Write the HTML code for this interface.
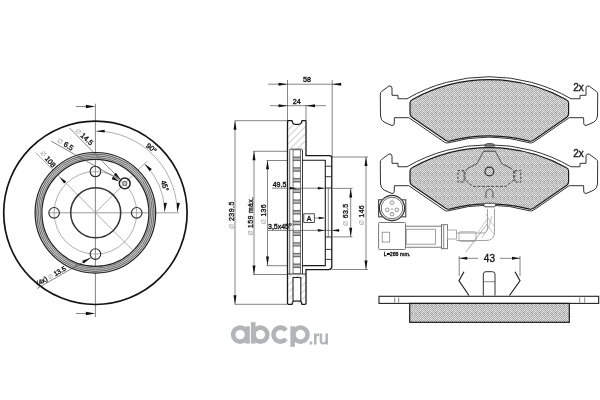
<!DOCTYPE html>
<html><head><meta charset="utf-8"><style>
html,body{margin:0;padding:0;background:#fff;}
svg{display:block;filter:blur(0.3px);}
text{font-family:"Liberation Sans",sans-serif;stroke:#111;stroke-width:0.35;}
.t{stroke:#444;stroke-width:0.65;fill:none;}
.c{stroke:#8c8c8c;stroke-width:0.7;fill:none;}
.kt{stroke:#222;stroke-width:0.9;fill:none;}
.ko{stroke:#141414;stroke-width:1.7;fill:none;}
.kb{stroke:#333;stroke-width:1.5;fill:none;}
.kh{stroke:#2a2a2a;stroke-width:1.1;fill:none;}
.kh2{stroke:#444;stroke-width:0.8;fill:none;}
</style></head><body>
<svg width="600" height="400" viewBox="0 0 600 400">
<defs>
<pattern id="dots" width="8" height="8" patternUnits="userSpaceOnUse"><rect x="0" y="0" width="1" height="1" fill="#e0e0e0"/><rect x="1" y="0" width="1" height="1" fill="#a1a1a1"/><rect x="2" y="0" width="1" height="1" fill="#e5e5e5"/><rect x="3" y="0" width="1" height="1" fill="#9b9b9b"/><rect x="4" y="0" width="1" height="1" fill="#d0d0d0"/><rect x="5" y="0" width="1" height="1" fill="#bababa"/><rect x="6" y="0" width="1" height="1" fill="#d2d2d2"/><rect x="7" y="0" width="1" height="1" fill="#afafaf"/><rect x="0" y="1" width="1" height="1" fill="#9b9b9b"/><rect x="1" y="1" width="1" height="1" fill="#ececec"/><rect x="2" y="1" width="1" height="1" fill="#a5a5a5"/><rect x="3" y="1" width="1" height="1" fill="#cecece"/><rect x="4" y="1" width="1" height="1" fill="#9d9d9d"/><rect x="5" y="1" width="1" height="1" fill="#e7e7e7"/><rect x="6" y="1" width="1" height="1" fill="#b2b2b2"/><rect x="7" y="1" width="1" height="1" fill="#d0d0d0"/><rect x="0" y="2" width="1" height="1" fill="#dbdbdb"/><rect x="1" y="2" width="1" height="1" fill="#9d9d9d"/><rect x="2" y="2" width="1" height="1" fill="#efefef"/><rect x="3" y="2" width="1" height="1" fill="#b3b3b3"/><rect x="4" y="2" width="1" height="1" fill="#cfcfcf"/><rect x="5" y="2" width="1" height="1" fill="#bcbcbc"/><rect x="6" y="2" width="1" height="1" fill="#d3d3d3"/><rect x="7" y="2" width="1" height="1" fill="#a6a6a6"/><rect x="0" y="3" width="1" height="1" fill="#9b9b9b"/><rect x="1" y="3" width="1" height="1" fill="#f0f0f0"/><rect x="2" y="3" width="1" height="1" fill="#b1b1b1"/><rect x="3" y="3" width="1" height="1" fill="#cfcfcf"/><rect x="4" y="3" width="1" height="1" fill="#a6a6a6"/><rect x="5" y="3" width="1" height="1" fill="#cecece"/><rect x="6" y="3" width="1" height="1" fill="#bbbbbb"/><rect x="7" y="3" width="1" height="1" fill="#d4d4d4"/><rect x="0" y="4" width="1" height="1" fill="#dedede"/><rect x="1" y="4" width="1" height="1" fill="#b2b2b2"/><rect x="2" y="4" width="1" height="1" fill="#d5d5d5"/><rect x="3" y="4" width="1" height="1" fill="#bababa"/><rect x="4" y="4" width="1" height="1" fill="#d3d3d3"/><rect x="5" y="4" width="1" height="1" fill="#bcbcbc"/><rect x="6" y="4" width="1" height="1" fill="#dfdfdf"/><rect x="7" y="4" width="1" height="1" fill="#bbbbbb"/><rect x="0" y="5" width="1" height="1" fill="#a3a3a3"/><rect x="1" y="5" width="1" height="1" fill="#d2d2d2"/><rect x="2" y="5" width="1" height="1" fill="#bcbcbc"/><rect x="3" y="5" width="1" height="1" fill="#d8d8d8"/><rect x="4" y="5" width="1" height="1" fill="#afafaf"/><rect x="5" y="5" width="1" height="1" fill="#d2d2d2"/><rect x="6" y="5" width="1" height="1" fill="#bbbbbb"/><rect x="7" y="5" width="1" height="1" fill="#d0d0d0"/><rect x="0" y="6" width="1" height="1" fill="#f0f0f0"/><rect x="1" y="6" width="1" height="1" fill="#9b9b9b"/><rect x="2" y="6" width="1" height="1" fill="#d9d9d9"/><rect x="3" y="6" width="1" height="1" fill="#b7b7b7"/><rect x="4" y="6" width="1" height="1" fill="#eeeeee"/><rect x="5" y="6" width="1" height="1" fill="#b3b3b3"/><rect x="6" y="6" width="1" height="1" fill="#e0e0e0"/><rect x="7" y="6" width="1" height="1" fill="#b5b5b5"/><rect x="0" y="7" width="1" height="1" fill="#b5b5b5"/><rect x="1" y="7" width="1" height="1" fill="#e3e3e3"/><rect x="2" y="7" width="1" height="1" fill="#ababab"/><rect x="3" y="7" width="1" height="1" fill="#dbdbdb"/><rect x="4" y="7" width="1" height="1" fill="#a3a3a3"/><rect x="5" y="7" width="1" height="1" fill="#dbdbdb"/><rect x="6" y="7" width="1" height="1" fill="#9d9d9d"/><rect x="7" y="7" width="1" height="1" fill="#f0f0f0"/></pattern>
<pattern id="hatch" width="5" height="5" patternUnits="userSpaceOnUse" patternTransform="rotate(45)">
<line x1="0" y1="0" x2="0" y2="5" stroke="#999" stroke-width="0.9"/>
</pattern>
</defs>
<rect width="600" height="400" fill="#fff"/>
<line x1="95.40" y1="103.7" x2="95.40" y2="317" stroke="#666" stroke-width="0.8"/>
<line x1="49" y1="212.80" x2="179" y2="212.80" stroke="#9a9a9a" stroke-width="1"/>
<line x1="35.50" y1="152.50" x2="133.00" y2="250.50" class="c"/>
<line x1="95.40" y1="212.80" x2="147.02" y2="161.18" class="c"/>
<circle cx="95.40" cy="212.80" r="41.30" class="c" />
<path d="M96.83,131.01 A81.80,81.80 0 0 1 177.09,208.52" class="c"/>
<path d="M145.25,164.66 A69.30,69.30 0 0 1 164.61,209.17" class="c"/>
<circle cx="95.40" cy="212.80" r="91.70" class="ko" />
<circle cx="95.40" cy="212.80" r="56.9" fill="none" stroke="#d0d0d0" stroke-width="6.8"/>
<circle cx="95.40" cy="212.80" r="53.50" fill="none" stroke="#222" stroke-width="1.20"/>
<circle cx="95.40" cy="212.80" r="55.30" fill="none" stroke="#555" stroke-width="0.80"/>
<circle cx="95.40" cy="212.80" r="57.00" fill="none" stroke="#555" stroke-width="0.80"/>
<circle cx="95.40" cy="212.80" r="58.70" fill="none" stroke="#444" stroke-width="0.80"/>
<circle cx="95.40" cy="212.80" r="60.30" fill="none" stroke="#222" stroke-width="1.20"/>
<circle cx="95.70" cy="212.80" r="25.00" class="kb" />
<circle cx="95.40" cy="171.50" r="5.30" class="kh" />
<circle cx="136.70" cy="212.80" r="5.30" class="kh" />
<circle cx="95.40" cy="254.10" r="5.30" class="kh" />
<circle cx="54.10" cy="212.80" r="5.30" class="kh" />
<circle cx="124.74" cy="183.46" r="5.4" fill="none" stroke="#222" stroke-width="1.5"/>
<circle cx="124.74" cy="183.46" r="2.2" fill="#c4c4c4" stroke="#555" stroke-width="0.9"/>
<line x1="76.00" y1="106.50" x2="87.00" y2="106.50" class="t"/>
<polygon points="95.40,106.50 85.90,108.20 85.90,104.80" fill="#111"/>
<line x1="76.00" y1="313.50" x2="87.00" y2="313.50" class="t"/>
<polygon points="95.40,313.50 85.90,315.20 85.90,311.80" fill="#111"/>
<polygon points="95.70,131.30 104.65,129.63 104.74,132.43" fill="#111"/>
<polygon points="177.20,212.80 176.90,202.69 179.88,203.05" fill="#111"/>
<polygon points="144.40,163.80 151.83,169.10 149.71,171.22" fill="#111"/>
<polygon points="164.40,212.80 163.90,202.70 166.89,203.00" fill="#111"/>
<line x1="69.50" y1="128.00" x2="121.00" y2="180.00" class="t"/>
<line x1="51.00" y1="141.00" x2="119.00" y2="179.50" class="t"/>
<polygon points="120.50,179.50 113.78,174.90 115.90,172.78" fill="#111"/>
<polygon points="119.50,181.50 111.67,179.26 113.02,176.58" fill="#111"/>
<polygon points="59.50,176.90 66.22,181.50 64.10,183.62" fill="#111"/>
<line x1="37.00" y1="288.50" x2="92.00" y2="257.00" class="t"/>
<polygon points="90.80,257.70 83.71,263.47 82.16,260.67" fill="#111"/>
<text x="82.70" y="138.50" font-size="7.30" text-anchor="middle" fill="#1a1a1a" transform="rotate(43.0 82.70 138.50)" ><tspan fill="#aaa" stroke="none" font-size="6.57">Ø</tspan> 14.5</text>
<text x="64.20" y="146.30" font-size="7.30" text-anchor="middle" fill="#1a1a1a" transform="rotate(32.0 64.20 146.30)" ><tspan fill="#aaa" stroke="none" font-size="6.57">Ø</tspan> 6.5</text>
<text x="46.10" y="160.70" font-size="7.30" text-anchor="middle" fill="#1a1a1a" transform="rotate(50.0 46.10 160.70)" ><tspan fill="#aaa" stroke="none" font-size="6.57">Ø</tspan> 108</text>
<text x="149.80" y="150.00" font-size="7.30" text-anchor="middle" fill="#1a1a1a" transform="rotate(40.0 149.80 150.00)" >90°</text>
<text x="162.50" y="186.50" font-size="7.30" text-anchor="middle" fill="#1a1a1a" transform="rotate(72.0 162.50 186.50)" >45°</text>
<text x="52.20" y="277.90" font-size="6.60" text-anchor="middle" fill="#1a1a1a" transform="rotate(-29.0 52.20 277.90)" >(4x) <tspan fill="#aaa" stroke="none" font-size="5.94">Ø</tspan> 13.5</text>
<line x1="268.00" y1="84.20" x2="340.00" y2="84.20" class="t"/>
<line x1="287.50" y1="80.00" x2="287.50" y2="121.00" class="t"/>
<line x1="332.20" y1="80.00" x2="332.20" y2="157.00" class="t"/>
<polygon points="287.50,84.20 278.50,85.70 278.50,82.70" fill="#111"/>
<polygon points="332.20,84.20 341.20,82.70 341.20,85.70" fill="#111"/>
<text x="307.00" y="82.30" font-size="7.20" text-anchor="middle" fill="#1a1a1a" >58</text>
<line x1="270.00" y1="105.70" x2="326.00" y2="105.70" class="t"/>
<line x1="306.00" y1="105.00" x2="306.00" y2="121.00" class="t"/>
<polygon points="287.50,105.70 278.50,107.20 278.50,104.20" fill="#111"/>
<polygon points="306.00,105.70 315.00,104.20 315.00,107.20" fill="#111"/>
<text x="296.70" y="103.60" font-size="7.20" text-anchor="middle" fill="#1a1a1a" >24</text>
<line x1="235.00" y1="120.50" x2="235.00" y2="304.50" class="t"/>
<line x1="235.00" y1="120.70" x2="287.00" y2="120.70" class="t"/>
<line x1="235.00" y1="304.30" x2="287.00" y2="304.30" class="t"/>
<polygon points="235.00,120.70 236.50,129.70 233.50,129.70" fill="#111"/>
<polygon points="235.00,304.30 233.50,295.30 236.50,295.30" fill="#111"/>
<text x="234.00" y="215.00" font-size="7.00" text-anchor="middle" fill="#1a1a1a" transform="rotate(-90.0 234.00 215.00)" letter-spacing="0.45"><tspan fill="#aaa" stroke="none" font-size="6.30">Ø</tspan> 239.5</text>
<line x1="254.00" y1="151.30" x2="254.00" y2="274.50" class="t"/>
<line x1="253.00" y1="151.30" x2="292.00" y2="151.30" class="t"/>
<line x1="253.00" y1="274.50" x2="292.00" y2="274.50" class="t"/>
<polygon points="254.00,151.30 255.50,160.30 252.50,160.30" fill="#111"/>
<polygon points="254.00,274.50 252.50,265.50 255.50,265.50" fill="#111"/>
<text x="253.20" y="216.00" font-size="7.00" text-anchor="middle" fill="#1a1a1a" transform="rotate(-90.0 253.20 216.00)" letter-spacing="0.3"><tspan fill="#aaa" stroke="none" font-size="6.30">Ø</tspan> 159 máx.</text>
<line x1="267.50" y1="160.50" x2="267.50" y2="265.70" class="t"/>
<line x1="266.50" y1="160.50" x2="292.00" y2="160.50" class="t"/>
<line x1="266.50" y1="265.70" x2="292.00" y2="265.70" class="t"/>
<polygon points="267.50,160.30 269.00,169.30 266.00,169.30" fill="#111"/>
<polygon points="267.50,265.50 266.00,256.50 269.00,256.50" fill="#111"/>
<text x="265.60" y="214.00" font-size="7.00" text-anchor="middle" fill="#1a1a1a" transform="rotate(-90.0 265.60 214.00)" letter-spacing="0.3"><tspan fill="#aaa" stroke="none" font-size="6.30">Ø</tspan> 136</text>
<line x1="350.70" y1="188.40" x2="350.70" y2="236.90" class="t"/>
<line x1="333.00" y1="188.40" x2="352.50" y2="188.40" class="t"/>
<line x1="333.00" y1="236.90" x2="352.50" y2="236.90" class="t"/>
<polygon points="350.70,188.60 352.20,197.60 349.20,197.60" fill="#111"/>
<polygon points="350.70,236.70 349.20,227.70 352.20,227.70" fill="#111"/>
<text x="347.60" y="214.60" font-size="7.00" text-anchor="middle" fill="#1a1a1a" transform="rotate(-90.0 347.60 214.60)" letter-spacing="0.3"><tspan fill="#aaa" stroke="none" font-size="6.30">Ø</tspan> 63.5</text>
<line x1="366.00" y1="157.00" x2="366.00" y2="269.50" class="t"/>
<line x1="332.00" y1="157.00" x2="368.00" y2="157.00" class="t"/>
<line x1="332.00" y1="269.50" x2="368.00" y2="269.50" class="t"/>
<polygon points="366.00,157.00 367.50,166.00 364.50,166.00" fill="#111"/>
<polygon points="366.00,269.50 364.50,260.50 367.50,260.50" fill="#111"/>
<text x="364.00" y="215.00" font-size="7.00" text-anchor="middle" fill="#1a1a1a" transform="rotate(-90.0 364.00 215.00)" letter-spacing="0.3"><tspan fill="#aaa" stroke="none" font-size="6.30">Ø</tspan> 146</text>
<path d="M287.5,150 L287.5,121.5 Q287.5,120.7 288.5,120.7 L292,120.7 L292.8,123 Q293.4,124.4 295.2,124.4 L298.8,124.4 Q300.6,124.4 301.2,123 L302,120.7 L305,120.7 Q306,120.7 306,121.5 L306,155.6 L329.5,155.6 Q331.8,155.6 331.8,158 L331.8,266.5 Q331.8,269.6 328.7,269.6 L306,269.6 L306,303.5 Q306,304.3 305,304.3 L302,304.3 L301.2,302 Q300.6,300.6 298.8,300.6 L295.2,300.6 Q293.4,300.6 292.8,302 L292,304.3 L288.5,304.3 Q287.5,304.3 287.5,303.5 Z" fill="#fff" stroke="#1a1a1a" stroke-width="1.3"/>
<path d="M288.2,149 L288.2,121.4 L291.5,121.4 L292.2,123.3 Q293,125.1 295.2,125.1 L298.8,125.1 Q301,125.1 301.8,123.3 L302.5,121.4 L305.3,121.4 L305.3,149 Z" fill="url(#hatch)"/>
<line x1="289.7" y1="149" x2="289.7" y2="274" stroke="#444" stroke-width="0.8"/>
<line x1="302.50" y1="150.00" x2="302.50" y2="274.00" class="kt"/>
<path d="M302.5,160.3 L325.3,160.3 L325.3,265.6 L302.5,265.6" fill="none" stroke="#1a1a1a" stroke-width="1.1"/>
<line x1="290.30" y1="149.20" x2="302.50" y2="149.20" class="kt"/>
<line x1="287.50" y1="274.00" x2="306.00" y2="274.00" class="kt"/>
<rect x="292.6" y="149" width="8.4" height="125" fill="#6a6a6a"/>
<rect x="293.5" y="150.30" width="6.6" height="6.30" rx="0.8" fill="#fff"/>
<rect x="293.5" y="157.80" width="6.6" height="2" fill="#bdbdbd"/>
<rect x="293.5" y="161.00" width="6.6" height="6.30" rx="0.8" fill="#fff"/>
<rect x="293.5" y="168.50" width="6.6" height="2" fill="#bdbdbd"/>
<rect x="293.5" y="171.70" width="6.6" height="6.30" rx="0.8" fill="#fff"/>
<rect x="293.5" y="179.20" width="6.6" height="2" fill="#bdbdbd"/>
<rect x="293.5" y="182.40" width="6.6" height="6.30" rx="0.8" fill="#fff"/>
<rect x="293.5" y="189.90" width="6.6" height="2" fill="#bdbdbd"/>
<rect x="293.5" y="193.10" width="6.6" height="6.30" rx="0.8" fill="#fff"/>
<rect x="293.5" y="200.60" width="6.6" height="2" fill="#bdbdbd"/>
<rect x="293.5" y="203.80" width="6.6" height="6.30" rx="0.8" fill="#fff"/>
<rect x="293.5" y="211.30" width="6.6" height="2" fill="#bdbdbd"/>
<rect x="293.5" y="214.50" width="6.6" height="6.30" rx="0.8" fill="#fff"/>
<rect x="293.5" y="222.00" width="6.6" height="2" fill="#bdbdbd"/>
<rect x="293.5" y="225.20" width="6.6" height="6.30" rx="0.8" fill="#fff"/>
<rect x="293.5" y="232.70" width="6.6" height="2" fill="#bdbdbd"/>
<rect x="293.5" y="235.90" width="6.6" height="6.30" rx="0.8" fill="#fff"/>
<rect x="293.5" y="243.40" width="6.6" height="2" fill="#bdbdbd"/>
<rect x="293.5" y="246.60" width="6.6" height="6.30" rx="0.8" fill="#fff"/>
<rect x="293.5" y="254.10" width="6.6" height="2" fill="#bdbdbd"/>
<rect x="293.5" y="257.30" width="6.6" height="6.30" rx="0.8" fill="#fff"/>
<rect x="293.5" y="264.80" width="6.6" height="2" fill="#bdbdbd"/>
<rect x="293.5" y="268.00" width="6.6" height="5.00" rx="0.8" fill="#fff"/>
<rect x="288.2" y="274.6" width="17.1" height="29" fill="url(#hatch)"/>
<rect x="293" y="277.5" width="7.8" height="23.5" fill="#fff" stroke="#222" stroke-width="1.1"/>
<line x1="325.30" y1="188.00" x2="331.80" y2="188.00" class="kt"/>
<line x1="325.30" y1="237.00" x2="331.80" y2="237.00" class="kt"/>
<line x1="328.30" y1="188.00" x2="328.30" y2="237.00" class="t"/>
<line x1="325.30" y1="249.40" x2="331.80" y2="249.40" class="kt"/>
<line x1="325.30" y1="259.40" x2="331.80" y2="259.40" class="kt"/>
<line x1="325.30" y1="166.20" x2="331.80" y2="166.20" class="kt"/>
<line x1="325.30" y1="176.70" x2="331.80" y2="176.70" class="kt"/>
<rect x="303.8" y="213.8" width="10.5" height="8.7" fill="#fff" stroke="#222" stroke-width="0.8"/>
<text x="309.05" y="221.00" font-size="7.00" text-anchor="middle" fill="#1a1a1a" >A</text>
<line x1="314.30" y1="218.00" x2="324.00" y2="218.00" class="t"/>
<polygon points="324.80,218.00 318.80,219.20 318.80,216.80" fill="#111"/>
<line x1="272.00" y1="188.20" x2="326.00" y2="188.20" class="t"/>
<polygon points="297.00,188.20 290.00,189.50 290.00,186.90" fill="#111"/>
<polygon points="324.80,188.20 317.80,189.50 317.80,186.90" fill="#111"/>
<text x="279.50" y="187.20" font-size="7.00" text-anchor="middle" fill="#1a1a1a" >49.5</text>
<line x1="268.00" y1="230.40" x2="340.00" y2="230.40" class="t"/>
<polygon points="324.80,230.40 317.80,231.70 317.80,229.10" fill="#111"/>
<polygon points="332.00,230.40 339.00,229.10 339.00,231.70" fill="#111"/>
<text x="268.00" y="228.60" font-size="7.00" text-anchor="start" fill="#1a1a1a" >3,5x45°</text>
<g transform="translate(0,0.00)">
<path d="M407,98.75 L398,98.75 L398,95.3 L392,95.3 L392,88 Q391.5,85.3 389,86 L381.5,91.5 Q380.3,92.5 380.3,94 L380.5,116 Q381,120.5 384,122 L391,125.2 Q393.8,126.2 394.2,124 L394.4,117.7 L408.8,117.7 L444.5,142.2 Q446.2,143.2 448,142.9 A150,150 0 0 1 530,142.9 Q531.8,143.2 533.5,142.2 L569.2,117.7 L583.6,117.7 L583.8,124 Q584.2,126.2 587,125.2 L594,122 Q597,120.5 597.5,116 L597.7,94 Q597.7,92.5 596.5,91.5 L589,86 Q586.5,85.3 586,88 L586,95.3 L580,95.3 L580,98.75 L571,98.75 A163.8,163.8 0 0 0 407,98.75 Z" fill="#fff" stroke="#333" stroke-width="1"/>
<path d="M410,103 Q410,100.6 412.5,99.5 A158.7,158.7 0 0 1 566,99.5 Q568.6,100.6 568.6,103 L568.6,113.5 Q568.6,115.8 566.8,117.2 L533.5,140.2 Q531.5,141.5 529.5,141.2 A157,157 0 0 0 449.5,141.2 Q447.5,141.5 445.5,140.2 L412,117.2 Q410,115.8 410,113.5 Z" fill="url(#dots)" stroke="#1a1a1a" stroke-width="1.2"/>
</g>
<g transform="translate(0,68.00)">
<path d="M407,98.75 L398,98.75 L398,95.3 L392,95.3 L392,88 Q391.5,85.3 389,86 L381.5,91.5 Q380.3,92.5 380.3,94 L380.5,116 Q381,120.5 384,122 L391,125.2 Q393.8,126.2 394.2,124 L394.4,117.7 L408.8,117.7 L444.5,142.2 Q446.2,143.2 448,142.9 A150,150 0 0 1 530,142.9 Q531.8,143.2 533.5,142.2 L569.2,117.7 L583.6,117.7 L583.8,124 Q584.2,126.2 587,125.2 L594,122 Q597,120.5 597.5,116 L597.7,94 Q597.7,92.5 596.5,91.5 L589,86 Q586.5,85.3 586,88 L586,95.3 L580,95.3 L580,98.75 L571,98.75 A163.8,163.8 0 0 0 407,98.75 Z" fill="#fff" stroke="#333" stroke-width="1"/>
<path d="M410,103 Q410,100.6 412.5,99.5 A158.7,158.7 0 0 1 566,99.5 Q568.6,100.6 568.6,103 L568.6,113.5 Q568.6,115.8 566.8,117.2 L533.5,140.2 Q531.5,141.5 529.5,141.2 A157,157 0 0 0 449.5,141.2 Q447.5,141.5 445.5,140.2 L412,117.2 Q410,115.8 410,113.5 Z" fill="url(#dots)" stroke="#1a1a1a" stroke-width="1.2"/>
</g>
<text x="578.60" y="90.50" font-size="10.00" text-anchor="middle" fill="#1a1a1a" >2x</text>
<text x="578.60" y="157.30" font-size="10.00" text-anchor="middle" fill="#1a1a1a" >2x</text>
<g fill="none" stroke="#3a3a3a" stroke-width="0.9">
<path d="M483.6,151.2 L477,163.6 L467.5,168.5 M495.2,151.2 L501.8,163.6 L511.3,168.5" stroke="#444"/>
<path d="M467.5,168.5 L465,172 L465,180 L472.8,186.4 L506,186.4 L513.8,180 L513.8,172 L511.3,168.5" stroke-dasharray="3,1.5"/>
<path d="M464,170.6 L458,170.6 L458,182 L464,182 Z M514.8,170.6 L520.8,170.6 L520.8,182 L514.8,182 Z" stroke-dasharray="2.5,1.5"/>
</g>
<circle cx="489.40" cy="171.50" r="4.40" class="kh" />
<path d="M484.5,146.2 Q485,143.6 487.5,143.5 L491.8,143.5 Q494.3,143.6 494.8,146.2 Z" fill="#777" stroke="#333" stroke-width="0.7"/>
<line x1="483.6" y1="151.2" x2="495.2" y2="151.2" stroke="#333" stroke-width="0.9"/>
<path d="M486,198 L486,192 Q489.4,186 493,192 L493,198" fill="none" stroke="#444" stroke-width="0.9"/>
<rect x="484" y="203.2" width="11.3" height="3.6" rx="1" fill="#fff" stroke="#333" stroke-width="0.9"/>
<rect x="378.6" y="199.8" width="5.5" height="17" fill="#fff" stroke="#444" stroke-width="1.1"/>
<rect x="400.3" y="199.8" width="5.5" height="17" fill="#fff" stroke="#444" stroke-width="1.1"/>
<circle cx="392" cy="208" r="12.6" fill="#fff" stroke="#333" stroke-width="1.2"/>
<circle cx="392.00" cy="208.00" r="10.80" class="kh2" />
<circle cx="392.00" cy="202.60" r="1.8" fill="none" stroke="#777" stroke-width="0.8"/>
<circle cx="387.30" cy="209.80" r="1.8" fill="none" stroke="#777" stroke-width="0.8"/>
<circle cx="396.80" cy="209.80" r="1.8" fill="none" stroke="#777" stroke-width="0.8"/>
<circle cx="392.00" cy="214.20" r="1.8" fill="none" stroke="#777" stroke-width="0.8"/>
<circle cx="392" cy="209" r="0.8" fill="#888"/>
<rect x="378.6" y="222.5" width="26.9" height="27" rx="1" fill="#fff" stroke="#6a6a6a" stroke-width="0.9"/>
<rect x="382.2" y="232.2" width="7.5" height="9.8" fill="#fff" stroke="#888" stroke-width="0.8"/>
<rect x="405.5" y="226.2" width="36" height="21" fill="#fff" stroke="#6a6a6a" stroke-width="0.9"/>
<rect x="406.2" y="229.2" width="29.3" height="15" fill="#fff" stroke="#888" stroke-width="0.8"/>
<rect x="441.5" y="224.7" width="6" height="24" fill="#fff" stroke="#6a6a6a" stroke-width="0.9"/>
<line x1="443.70" y1="225.00" x2="443.70" y2="248.50" class="t"/>
<rect x="447.5" y="230" width="9" height="9" fill="#fff" stroke="#999" stroke-width="0.8"/>
<path d="M456.5,233 L483,233 Q487.5,233 487.5,228 L487.5,209 M456.5,240.5 L486,240.5 Q494.5,240.5 494.5,232 L494.5,209" fill="none" stroke="#999" stroke-width="0.9"/>
<path d="M478,232 Q484,224 488,218 M482,238 Q490,228 492,216 M486,214 Q490,222 494,226 M488,226 Q492,232 494,234" fill="none" stroke="#aaa" stroke-width="0.7"/>
<rect x="459" y="231.8" width="17" height="9.6" rx="1.5" fill="none" stroke="#999" stroke-width="0.8"/>
<line x1="487.00" y1="224.00" x2="466.00" y2="252.00" class="c"/>
<text x="383.70" y="256.20" font-size="5.30" text-anchor="start" fill="#1a1a1a" >L=266 mm.</text>
<line x1="459.20" y1="258.30" x2="478.00" y2="258.30" class="t"/>
<line x1="500.00" y1="258.30" x2="520.00" y2="258.30" class="t"/>
<polygon points="459.20,258.30 467.20,256.80 467.20,259.80" fill="#111"/>
<polygon points="520.00,258.30 512.00,259.80 512.00,256.80" fill="#111"/>
<line x1="459.20" y1="256.00" x2="459.20" y2="276.00" class="t"/>
<line x1="520.00" y1="256.00" x2="520.00" y2="276.00" class="t"/>
<text x="489.40" y="262.00" font-size="10.00" text-anchor="middle" fill="#1a1a1a" >43</text>
<path d="M464,271.7 L459,280.8 L469,295.5 M515,271.7 L520,280.8 L509.5,295.5" fill="none" stroke="#222" stroke-width="1.2"/>
<path d="M483.3,295.5 L483.3,274 Q483.3,271.7 486,271.7 L492.3,271.7 Q495,271.7 495,274 L495,295.5" fill="#fff" stroke="#333" stroke-width="1"/>
<line x1="483.30" y1="281.70" x2="495.00" y2="281.70" class="t"/>
<rect x="379" y="296.3" width="219.7" height="7.1" fill="#fff" stroke="#222" stroke-width="1.1"/>
<rect x="409.7" y="303.4" width="159.6" height="18.9" fill="url(#dots)" stroke="#1a1a1a" stroke-width="1.2"/>
<line x1="394.70" y1="297.50" x2="394.70" y2="302.50" class="t"/>
<line x1="398.70" y1="297.50" x2="398.70" y2="302.50" class="t"/>
<line x1="579.70" y1="297.50" x2="579.70" y2="302.50" class="t"/>
<line x1="584.70" y1="297.50" x2="584.70" y2="302.50" class="t"/>
<g fill="none" stroke="#b2b4b8" stroke-width="4.6">
<circle cx="240.1" cy="334.6" r="7.0"/>
<circle cx="260.4" cy="334.6" r="7.0"/>
<path d="M286.0,330.3 A7,7 0 1 0 286.0,338.9"/>
<circle cx="300.5" cy="334.6" r="7.1"/>
</g>
<g fill="#b2b4b8">
<rect x="245.2" y="326.3" width="4.6" height="17.3"/>
<rect x="250.9" y="322.2" width="4.6" height="21.4"/>
<rect x="290.4" y="326.3" width="4.5" height="20.5"/>
</g>
<text x="318.60" y="344.20" font-size="17.50" text-anchor="middle" fill="#b2b4b8" style="stroke:#b2b4b8;stroke-width:0.9">.ru</text>
</svg>
</body></html>
